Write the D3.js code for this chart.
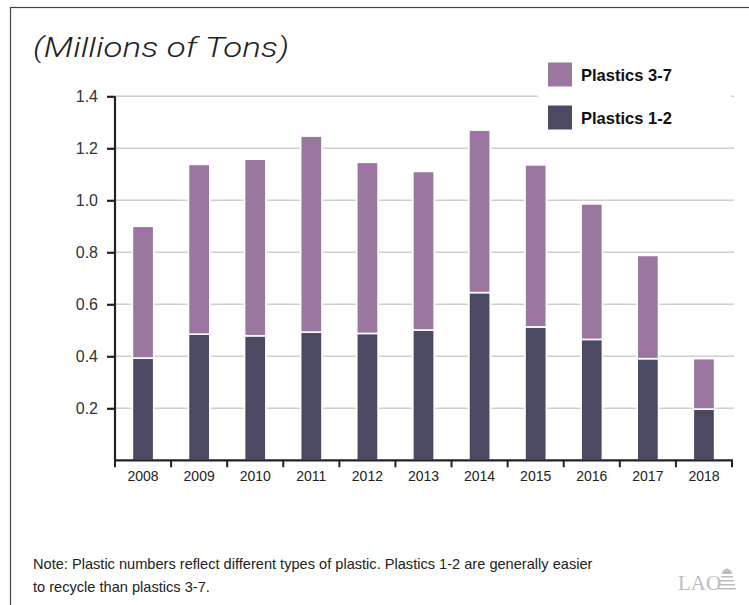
<!DOCTYPE html>
<html>
<head>
<meta charset="utf-8">
<script src="https://cdn.jsdelivr.net/npm/d3@7"></script>
<style>
  html, body { margin: 0; padding: 0; background: #fff; }
  svg { display: block; font-family: "Liberation Sans", Arial, sans-serif; }
</style>
</head>
<body>
<svg id="chart" width="749" height="605"></svg>
<script>
const years = ["2008","2009","2010","2011","2012","2013","2014","2015","2016","2017","2018"];
const plastics12 = [0.393,0.485,0.479,0.493,0.488,0.501,0.645,0.513,0.465,0.391,0.197];
const plastics37 = [0.507,0.653,0.679,0.754,0.658,0.610,0.625,0.623,0.521,0.397,0.194];
const yTicks = [0.2,0.4,0.6,0.8,1.0,1.2,1.4];
const seriesNames = ["Plastics 1-2","Plastics 3-7"];
const colors = {"Plastics 1-2":"#4c4a62","Plastics 3-7":"#9a76a0"};

const svg = d3.select("#chart");

// frame
svg.append("rect").attr("x",10.5).attr("y",7.5).attr("width",800).attr("height",700)
  .attr("fill","none").attr("stroke","#444").attr("stroke-width",1.2);

const x0 = 115, x1 = 732, yBase = 460.3;
const x = d3.scaleBand().domain(years).range([x0,x1]).paddingInner(0.62).paddingOuter(0.31);
const xb = d3.scaleBand().domain(years).range([x0,x1]);
const y = d3.scaleLinear().domain([0,1.4]).range([yBase, yBase-1.4*260]);

// gridlines
svg.append("g").selectAll("line").data(yTicks).join("line")
  .attr("x1",x0).attr("x2",734).attr("y1",d=>y(d)).attr("y2",d=>y(d))
  .attr("stroke","#cfcfcf").attr("stroke-width",1.5);

// stacked data
const table = years.map((yr,i)=>({year:yr,"Plastics 1-2":plastics12[i],"Plastics 3-7":plastics37[i]}));
const stack = d3.stack().keys(seriesNames)(table);

svg.append("g").selectAll("g").data(stack).join("g")
  .attr("fill",d=>colors[d.key])
  .selectAll("rect").data(d=>d).join("rect")
  .attr("x",d=>x(d.data.year))
  .attr("width",x.bandwidth())
  .attr("y",d=>y(d[1]))
  .attr("height",d=>y(d[0])-y(d[1]))
  .attr("stroke","#fff").attr("stroke-width",1.6);

// y axis
const yAxis = d3.axisLeft(y).tickValues(yTicks).tickFormat(d3.format(".1f")).tickSize(8).tickPadding(9);
const gy = svg.append("g").attr("transform",`translate(${x0},0)`).call(yAxis);
gy.select(".domain").attr("d",`M0,${y(1.4)}V${yBase}`).attr("stroke","#222").attr("stroke-width",2.2);
gy.selectAll(".tick line").attr("stroke","#222").attr("stroke-width",2.2);
gy.selectAll(".tick text").attr("font-size",16).attr("fill","#333").attr("font-family","Liberation Sans, Arial, sans-serif");

// x axis
const xAxis = d3.axisBottom(x).tickSize(0).tickPadding(11);
const gx = svg.append("g").attr("transform",`translate(0,${yBase})`).call(xAxis);
gx.select(".domain").attr("d",`M${x0-1},0H${x1+1}`).attr("stroke","#222").attr("stroke-width",2.2);
gx.selectAll(".tick text").attr("font-size",14).attr("fill","#222").attr("font-family","Liberation Sans, Arial, sans-serif");
const boundaries = years.map(yr=>xb(yr)).concat([x1]);
gx.append("g").selectAll("line").data(boundaries).join("line")
  .attr("x1",d=>d).attr("x2",d=>d).attr("y1",0).attr("y2",7)
  .attr("stroke","#222").attr("stroke-width",2);

// title
svg.append("text").attr("x",33).attr("y",57).text("(Millions of Tons)")
  .attr("font-family","Roboto, 'Liberation Sans', Arial, sans-serif")
  .attr("font-weight",300)
  .attr("font-size",28).attr("font-style","italic").attr("fill","#222")
  .attr("textLength",256).attr("lengthAdjust","spacingAndGlyphs");

// legend
const lg = svg.append("g");
lg.append("rect").attr("x",538).attr("y",52).attr("width",193).attr("height",88).attr("fill","#fff");
const legendOrder = ["Plastics 3-7","Plastics 1-2"];
legendOrder.forEach((k,i)=>{
  lg.append("rect").attr("x",548).attr("y",62.5+i*43).attr("width",24).attr("height",24).attr("fill",colors[k]);
  lg.append("text").attr("x",581).attr("y",80.5+i*43).text(k)
    .attr("font-size",16.5).attr("font-weight","bold").attr("fill","#111");
});

// note
const note = svg.append("text").attr("font-size",14.6).attr("fill","#222");
note.append("tspan").attr("x",33).attr("y",569).text("Note: Plastic numbers reflect different types of plastic. Plastics 1-2 are generally easier");
note.append("tspan").attr("x",33).attr("y",592).text("to recycle than plastics 3-7.");

// LAO logo
const logo = svg.append("g").attr("fill","#bdbdbd");
logo.append("text").attr("x",678).attr("y",590).text("LAO")
  .attr("font-family","Liberation Serif, serif").attr("font-size",21);
const lx = 722, ly = 571;
logo.append("path").attr("d",`M${lx},${ly+3} a5,5 0 0 1 10,0 z`);
logo.append("rect").attr("x",lx+4.5).attr("y",ly-3).attr("width",1).attr("height",3);
logo.append("rect").attr("x",lx-1).attr("y",ly+5).attr("width",12).attr("height",1.5);
logo.append("rect").attr("x",lx-2).attr("y",ly+9).attr("width",14).attr("height",1.5);
logo.append("rect").attr("x",lx-3).attr("y",ly+13).attr("width",16).attr("height",1.5);
logo.append("rect").attr("x",lx-4).attr("y",ly+17).attr("width",18).attr("height",1.5);
</script>
</body>
</html>
